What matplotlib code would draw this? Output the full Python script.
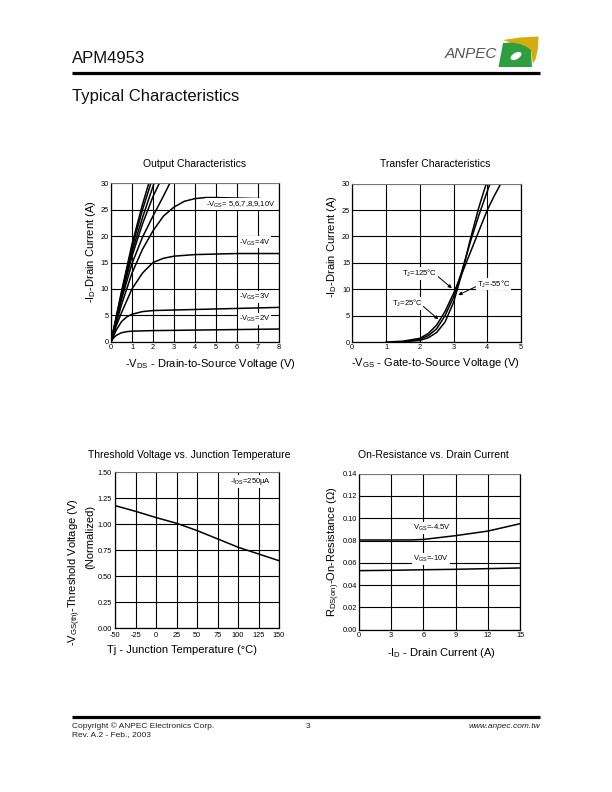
import matplotlib
matplotlib.use('Agg')
import matplotlib.pyplot as plt
from matplotlib.patches import Polygon, Ellipse

plt.rcParams['font.family'] = ['Liberation Sans', 'DejaVu Sans']
plt.rcParams['mathtext.fontset'] = 'custom'
plt.rcParams['mathtext.rm'] = 'Liberation Sans'
plt.rcParams['mathtext.it'] = 'Liberation Sans:italic'
plt.rcParams['mathtext.bf'] = 'Liberation Sans:bold'
plt.rcParams['axes.unicode_minus'] = False

# ---------------- data ----------------
# Output characteristics (-VDS in V, -ID in A)
out_vds_10 = [0, 0.5, 1.0, 1.5, 1.8, 2.0]
out_id_10 = [0, 9.5, 18.5, 26.0, 30.0, 32.0]
out_vds_9 = [0, 0.5, 1.0, 1.5, 1.9, 2.1]
out_id_9 = [0, 9.2, 17.8, 25.0, 30.0, 32.0]
out_vds_8 = [0, 0.5, 1.0, 1.5, 2.05, 2.2]
out_id_8 = [0, 8.8, 17.0, 23.5, 30.0, 31.5]
out_vds_7 = [0, 0.5, 1.0, 1.5, 2.0, 2.3, 2.5]
out_id_7 = [0, 8.5, 16.2, 22.3, 27.5, 30.0, 31.5]
out_vds_6 = [0, 0.5, 1.0, 1.5, 2.0, 2.5, 2.8, 3.0]
out_id_6 = [0, 8.0, 14.8, 19.8, 23.8, 27.6, 30.0, 31.2]
out_vds_5 = [0, 0.5, 1.0, 1.5, 2.0, 2.5, 3.0, 3.5, 4.0, 4.5, 5.0, 6.0, 7.1]
out_id_5 = [0, 7.0, 13.0, 17.5, 21.0, 23.8, 25.5, 26.6, 27.1, 27.3, 27.3, 27.2, 27.1]
out_vds_4 = [0, 0.25, 0.5, 1.0, 1.5, 2.0, 2.5, 3.0, 4.0, 5.0, 6.0, 8.0]
out_id_4 = [0, 3.0, 5.5, 10.0, 13.0, 15.0, 15.8, 16.2, 16.5, 16.6, 16.7, 16.7]
out_vds_3 = [0, 0.25, 0.5, 0.75, 1.0, 1.5, 2.0, 3.0, 4.0, 6.0, 8.0]
out_id_3 = [0, 2.2, 3.8, 4.7, 5.2, 5.7, 5.9, 6.0, 6.1, 6.3, 6.5]
out_vds_2 = [0, 0.1, 0.25, 0.5, 0.75, 1.0, 2.0, 4.0, 6.0, 8.0]
out_id_2 = [0, 0.6, 1.2, 1.7, 1.9, 2.0, 2.1, 2.2, 2.3, 2.4]

# Transfer characteristics (-VGS in V, -ID in A)
tr_vgs_125 = [1.0, 1.5, 2.0, 2.25, 2.5, 2.75, 3.0, 3.25, 3.5, 3.75, 4.0, 4.2, 4.4]
tr_id_125 = [0, 0.15, 0.7, 1.6, 3.2, 5.8, 9.2, 13.0, 17.0, 21.0, 25.0, 27.6, 30.0]
tr_vgs_25 = [1.2, 1.5, 2.0, 2.25, 2.5, 2.75, 3.0, 3.25, 3.5, 3.75, 4.08]
tr_id_25 = [0, 0.05, 0.5, 1.2, 2.5, 5.0, 8.5, 13.5, 19.0, 24.0, 30.0]
tr_vgs_m55 = [1.4, 2.0, 2.25, 2.5, 2.75, 3.0, 3.25, 3.5, 3.75, 3.97]
tr_id_m55 = [0, 0.3, 0.8, 1.8, 3.8, 7.5, 13.0, 19.5, 25.5, 30.0]

# Threshold voltage vs junction temperature
th_tj = [-50, -25, 0, 25, 50, 75, 100, 125, 150]
th_vth = [1.18, 1.125, 1.065, 1.01, 0.94, 0.86, 0.78, 0.715, 0.65]

# On-resistance vs drain current
ron_id_45 = [0, 3, 5, 6, 9, 12, 15]
ron_r_45 = [0.0805, 0.0805, 0.0806, 0.081, 0.0844, 0.0885, 0.0951]
ron_id_10 = [0, 3, 6, 9, 12, 15]
ron_r_10 = [0.053, 0.0533, 0.0538, 0.0542, 0.0548, 0.0554]

# tick values / labels
out_xticks = [0, 1, 2, 3, 4, 5, 6, 7, 8]
out_yticks = [0, 5, 10, 15, 20, 25, 30]
tr_xticks = [0, 1, 2, 3, 4, 5]
tr_yticks = [0, 5, 10, 15, 20, 25, 30]
th_xticks = [-50, -25, 0, 25, 50, 75, 100, 125, 150]
th_yticks = [0.0, 0.25, 0.5, 0.75, 1.0, 1.25, 1.5]
th_yticklabels = ['0.00', '0.25', '0.50', '0.75', '1.00', '1.25', '1.50']
ron_xticks = [0, 3, 6, 9, 12, 15]
ron_yticks = [0.0, 0.02, 0.04, 0.06, 0.08, 0.10, 0.12, 0.14]
ron_yticklabels = ['0.00', '0.02', '0.04', '0.06', '0.08', '0.10', '0.12', '0.14']

# ---------------- figure ----------------
W, H = 612, 792
fig = plt.figure(figsize=(W / 100, H / 100), dpi=100)

page = fig.add_axes([0, 0, 1, 1])
page.set_xlim(0, W)
page.set_ylim(H, 0)
page.axis('off')

# header
page.text(72, 63.3, 'APM4953', fontsize=12, ha='left', va='baseline', color='#111111')
page.plot([72, 540], [73.3, 73.3], color='black', lw=2.3, solid_capstyle='butt')
page.text(72, 100.7, 'Typical Characteristics', fontsize=12, ha='left', va='baseline', color='#111111')
page.text(497, 58.5, 'ANPEC', fontsize=11, style='italic', ha='right', va='baseline', color='#555555')
# logo
page.add_patch(Polygon([[503, 40], [520, 37.5], [538.5, 36.5], [538, 48], [536, 58], [533, 64], [531, 50]],
                       closed=True, facecolor='#d4ac0d', edgecolor='none'))
page.add_patch(Polygon([[503, 43], [512, 42.5], [520, 44], [526, 46.5], [531, 50], [532, 67],
                        [498.5, 67], [501, 54]],
                       closed=True, facecolor='#2f9e3f', edgecolor='none'))
page.add_patch(Ellipse((516, 56), 12, 6.5, angle=-30, facecolor='white', edgecolor='none'))

# footer
page.plot([72, 540], [717, 717], color='black', lw=2.3, solid_capstyle='butt')
page.text(72, 727.7, 'Copyright \u00a9 ANPEC Electronics Corp.', fontsize=6, ha='left', va='baseline', color='#222222')
page.text(72, 736.2, 'Rev. A.2 - Feb., 2003', fontsize=6, ha='left', va='baseline', color='#222222')
page.text(308, 727.7, '3', fontsize=6, ha='center', va='baseline', color='#222222')
page.text(540, 727.7, 'www.anpec.com.tw', fontsize=6, style='italic', ha='right', va='baseline', color='#222222')


def mk_axes(x0, x1, ytop, ybot):
    return fig.add_axes([x0 / W, 1 - ybot / H, (x1 - x0) / W, (ybot - ytop) / H])


def style(ax, xt, yt, xtl=None, ytl=None):
    ax.set_xticks(xt)
    ax.set_yticks(yt)
    if xtl is not None:
        ax.set_xticklabels(xtl)
    if ytl is not None:
        ax.set_yticklabels(ytl)
    ax.tick_params(length=0, labelsize=5.3, pad=1.5, colors='black')
    ax.grid(True, color='black', lw=0.8)
    for s in ['left', 'bottom', 'right']:
        ax.spines[s].set_linewidth(0.9)
        ax.spines[s].set_color('black')
    ax.spines['top'].set_linewidth(0.5)
    ax.spines['top'].set_color('#aaaaaa')


CLW = 1.1
LBL = 8
TTL = 7.5
ANN = 5.5
white = dict(facecolor='white', edgecolor='none', pad=0.6)

# ---- Output Characteristics ----
ax1 = mk_axes(111, 279, 183.3, 341.7)
ax1.set_xlim(0, 8)
ax1.set_ylim(0, 30)
style(ax1, out_xticks, out_yticks)
for xs, ys in [(out_vds_10, out_id_10), (out_vds_9, out_id_9), (out_vds_8, out_id_8),
               (out_vds_7, out_id_7), (out_vds_6, out_id_6), (out_vds_5, out_id_5),
               (out_vds_4, out_id_4), (out_vds_3, out_id_3), (out_vds_2, out_id_2)]:
    ax1.plot(xs, ys, color='black', lw=CLW)
ax1.text(4.5, 26.0, r'-V$_{\mathrm{GS}}$= 5,6,7,8,9,10V', fontsize=ANN, va='center', ha='left', bbox=white, zorder=5)
ax1.text(6.1, 18.8, r'-V$_{\mathrm{GS}}$=4V', fontsize=ANN, va='center', ha='left', bbox=white, zorder=5)
ax1.text(6.1, 8.4, r'-V$_{\mathrm{GS}}$=3V', fontsize=ANN, va='center', ha='left', bbox=white, zorder=5)
ax1.text(6.1, 4.3, r'-V$_{\mathrm{GS}}$=2V', fontsize=ANN, va='center', ha='left', bbox=white, zorder=5)
ax1.text(0.5, 1.122, 'Output Characteristics', transform=ax1.transAxes, ha='center', va='center', fontsize=TTL)
ax1.set_xlabel(r'-V$_{\mathrm{DS}}$ - Drain-to-Source Voltage (V)', fontsize=LBL)
ax1.xaxis.set_label_coords(0.589, -0.141)
ax1.xaxis.label.set_va('center')
ax1.set_ylabel(r'-I$_{\mathrm{D}}$-Drain Current (A)', fontsize=LBL)
ax1.yaxis.set_label_coords(-0.12, 0.568)
ax1.yaxis.label.set_va('center')

# ---- Transfer Characteristics ----
ax2 = mk_axes(352.3, 521, 183.7, 342)
ax2.set_xlim(0, 5)
ax2.set_ylim(0, 30)
style(ax2, tr_xticks, tr_yticks)
for xs, ys in [(tr_vgs_125, tr_id_125), (tr_vgs_25, tr_id_25), (tr_vgs_m55, tr_id_m55)]:
    ax2.plot(xs, ys, color='black', lw=CLW)
arr = dict(arrowstyle='-|>', color='black', lw=0.7, mutation_scale=5, shrinkA=0, shrinkB=0)
ax2.annotate(r'T$_{\mathrm{J}}$=125°C', xy=(2.95, 10.2), xytext=(1.47, 13.0), fontsize=ANN,
             ha='left', va='center', arrowprops=dict(arr, relpos=(1.0, 0.3)), bbox=white, zorder=5)
ax2.annotate(r'T$_{\mathrm{J}}$=-55°C', xy=(3.14, 8.9), xytext=(3.69, 11.0), fontsize=ANN,
             ha='left', va='center', arrowprops=dict(arr, relpos=(0.0, 0.3)), bbox=white, zorder=5)
ax2.annotate(r'T$_{\mathrm{J}}$=25°C', xy=(2.55, 4.3), xytext=(1.17, 7.3), fontsize=ANN,
             ha='left', va='center', arrowprops=dict(arr, relpos=(1.0, 0.3)), bbox=white, zorder=5)
ax2.text(0.49, 1.124, 'Transfer Characteristics', transform=ax2.transAxes, ha='center', va='center', fontsize=TTL)
ax2.set_xlabel(r'-V$_{\mathrm{GS}}$ - Gate-to-Source Voltage (V)', fontsize=LBL)
ax2.xaxis.set_label_coords(0.493, -0.133)
ax2.xaxis.label.set_va('center')
ax2.set_ylabel(r'-I$_{\mathrm{D}}$-Drain Current (A)', fontsize=LBL)
ax2.yaxis.set_label_coords(-0.12, 0.60)
ax2.yaxis.label.set_va('center')

# ---- Threshold Voltage vs. Junction Temperature ----
ax3 = mk_axes(115, 279, 472.3, 628.3)
ax3.set_xlim(-50, 150)
ax3.set_ylim(0, 1.5)
style(ax3, th_xticks, th_yticks, ytl=th_yticklabels)
ax3.tick_params(axis='x', pad=3)
ax3.tick_params(axis='y', pad=2.2)
ax3.plot(th_tj, th_vth, color='black', lw=CLW)
ax3.text(90, 1.41, r'-I$_{\mathrm{DS}}$=250µA', fontsize=ANN, ha='left', va='center', bbox=white, zorder=5)
ax3.text(0.453, 1.111, 'Threshold Voltage vs. Junction Temperature', transform=ax3.transAxes,
         ha='center', va='center', fontsize=TTL)
ax3.set_xlabel('Tj - Junction Temperature (°C)', fontsize=LBL)
ax3.xaxis.set_label_coords(0.407, -0.139)
ax3.xaxis.label.set_va('center')
ax3.text(-0.245, 0.36, r'-V$_{\mathrm{GS(th)}}$-Threshold Voltage (V)', transform=ax3.transAxes,
         rotation=90, ha='center', va='center', fontsize=LBL)
ax3.text(-0.148, 0.585, '(Normalized)', transform=ax3.transAxes,
         rotation=90, ha='center', va='center', fontsize=LBL)

# ---- On-Resistance vs. Drain Current ----
ax4 = mk_axes(359, 520, 473.7, 629.7)
ax4.set_xlim(0, 15)
ax4.set_ylim(0, 0.14)
style(ax4, ron_xticks, ron_yticks, ytl=ron_yticklabels)
ax4.plot(ron_id_45, ron_r_45, color='black', lw=CLW)
ax4.plot(ron_id_10, ron_r_10, color='black', lw=CLW)
ax4.text(5.06, 0.091, r'V$_{\mathrm{GS}}$=-4.5V', fontsize=ANN, ha='left', va='center', bbox=white, zorder=5)
ax4.text(5.06, 0.0632, r'V$_{\mathrm{GS}}$=-10V', fontsize=ANN, ha='left', va='center', bbox=white, zorder=5)
ax4.text(0.46, 1.12, 'On-Resistance vs. Drain Current', transform=ax4.transAxes,
         ha='center', va='center', fontsize=TTL)
ax4.set_xlabel(r'-I$_{\mathrm{D}}$ - Drain Current (A)', fontsize=LBL)
ax4.xaxis.set_label_coords(0.514, -0.149)
ax4.xaxis.label.set_va('center')
ax4.set_ylabel(r'R$_{\mathrm{DS(on)}}$-On-Resistance ($\Omega$)', fontsize=LBL)
ax4.yaxis.set_label_coords(-0.155, 0.5)
ax4.yaxis.label.set_va('center')

fig.savefig('out.png', dpi=100)
